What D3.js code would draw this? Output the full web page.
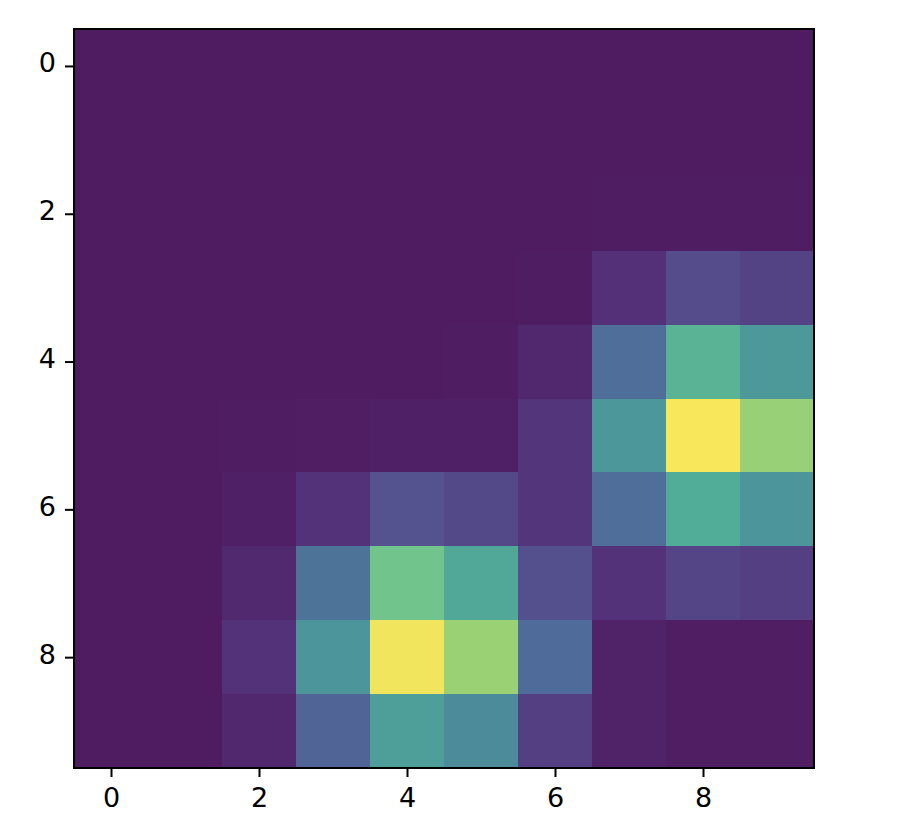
<!DOCTYPE html>
<html>
<head>
<meta charset="utf-8">
<script src="https://cdn.jsdelivr.net/npm/d3@7"></script>
<style>
  body { margin: 0; background: #fff; }
  svg { display: block; font-family: "DejaVu Sans", sans-serif; }
</style>
</head>
<body>
<svg id="chart" width="900" height="834"></svg>
<script>
// grid indices and tick labels
var cols = [0, 1, 2, 3, 4, 5, 6, 7, 8, 9]
var rows = [0, 1, 2, 3, 4, 5, 6, 7, 8, 9]
var xTicks = [0, 2, 4, 6, 8]
var yTicks = [0, 2, 4, 6, 8]

// cell values, one array per row (0..1)
var row0 = [0, 0, 0, 0, 0, 0, 0, 0, 0, 0]
var row1 = [0, 0, 0, 0, 0, 0, 0, 0, 0, 0]
var row2 = [0, 0, 0, 0, 0, 0, 0, 0.005, 0.005, 0.005]
var row3 = [0, 0, 0, 0, 0, 0, 0.005, 0.09, 0.18, 0.15]
var row4 = [0, 0, 0, 0, 0, 0.003, 0.05, 0.31, 0.63, 0.49]
var row5 = [0, 0, 0.005, 0.01, 0.02, 0.02, 0.11, 0.48, 1.0, 0.81]
var row6 = [0, 0, 0.02, 0.1, 0.2, 0.17, 0.11, 0.31, 0.6, 0.47]
var row7 = [0, 0, 0.06, 0.33, 0.72, 0.57, 0.19, 0.1, 0.16, 0.14]
var row8 = [0, 0, 0.1, 0.47, 0.985, 0.82, 0.3, 0.03, 0.01, 0.01]
var row9 = [0, 0, 0.05, 0.27, 0.52, 0.43, 0.14, 0.03, 0.01, 0.01]
var grid = [row0, row1, row2, row3, row4, row5, row6, row7, row8, row9]

// muted viridis-like colour stops as seen in the picture
var colorStops = [0, 0.1, 0.2, 0.3, 0.45, 0.6, 0.72, 0.82, 1]
var colorRange = ['#4f1c61', '#533279', '#54538f', '#4f6b99', '#4b919a', '#52ad98', '#72c48d', '#9bd175', '#f8e75a']

var margin = {top: 29, right: 86, bottom: 66, left: 74}
var width = 900 - margin.left - margin.right
var height = 834 - margin.top - margin.bottom

var svg = d3.select('#chart')
var g = svg.append('g').attr('transform', 'translate(' + margin.left + ',' + margin.top + ')')

var x = d3.scaleLinear().domain([-0.5, 9.5]).range([0, width])
var y = d3.scaleLinear().domain([-0.5, 9.5]).range([0, height])
var color = d3.scaleLinear().domain(colorStops).range(colorRange).interpolate(d3.interpolateRgb)

var cells = []
rows.forEach(function(r) {
	cols.forEach(function(c) {
		cells.push({r: r, c: c, v: grid[r][c]})
	})
})

g.selectAll('.cell').data(cells).enter().append('rect')
	.attr('class', 'cell')
	.attr('x', function(d) {return x(d.c - 0.5)})
	.attr('y', function(d) {return y(d.r - 0.5)})
	.attr('width', function(d) {return x(d.c + 0.5) - x(d.c - 0.5) + 0.6})
	.attr('height', function(d) {return y(d.r + 0.5) - y(d.r - 0.5) + 0.6})
	.attr('fill', function(d) {return color(d.v)})
	.attr('shape-rendering', 'crispEdges')

// axes
var xAxis = d3.axisBottom(x).tickValues(xTicks).tickSize(9).tickPadding(11).tickFormat(d3.format('d'))
var yAxis = d3.axisLeft(y).tickValues(yTicks).tickSize(9).tickPadding(9).tickFormat(d3.format('d'))

var gx = g.append('g').attr('transform', 'translate(0,' + height + ')').call(xAxis)
var gy = g.append('g').call(yAxis)
gy.selectAll('text').attr('dy', '0.22em')
;[gx, gy].forEach(function(a) {
	a.select('.domain').remove()
	a.selectAll('line').attr('stroke', '#000').attr('stroke-width', 2)
	a.selectAll('text').attr('fill', '#000').style('font-size', '27px').style('font-family', '"DejaVu Sans", sans-serif')
})

// frame
g.append('rect')
	.attr('x', 0).attr('y', 0)
	.attr('width', width).attr('height', height)
	.attr('fill', 'none')
	.attr('stroke', '#000')
	.attr('stroke-width', 2)
</script>
</body>
</html>
